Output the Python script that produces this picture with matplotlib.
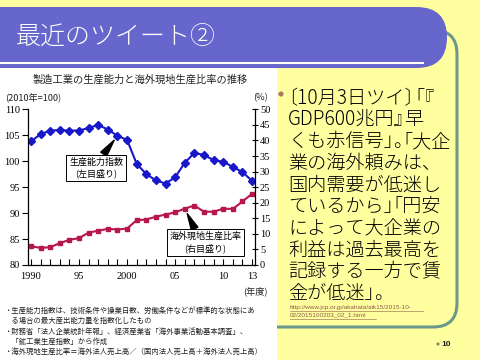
import matplotlib
matplotlib.use('Agg')
import matplotlib.pyplot as plt
from matplotlib.patches import FancyBboxPatch, Rectangle, Circle
from matplotlib.font_manager import findfont, FontProperties

plt.rcParams['font.family'] = ['Noto Sans CJK JP', 'DejaVu Sans']

# ---------------- data ----------------
years = list(range(1990, 2014))
capacity_index = [103.8, 105.2, 105.9, 106.0, 105.9, 105.9, 106.4, 107.0, 106.1, 104.9,
                  104.1, 99.5, 97.5, 96.3, 95.7, 96.9, 99.7, 101.6, 101.2, 100.2,
                  99.9, 98.9, 97.9, 96.2]
overseas_ratio = [6.0, 5.5, 5.7, 7.0, 8.1, 8.6, 10.4, 11.0, 11.6, 11.4,
                  11.7, 14.4, 14.6, 15.5, 16.2, 16.9, 18.1, 19.1, 17.1, 17.1,
                  18.1, 18.0, 20.4, 22.9]
xtick_years = [1990, 1995, 2000, 2005, 2010, 2013]
xtick_labels = ['1990', '95', '2000', '05', '10', '13']
left_ticks = [80, 85, 90, 95, 100, 105, 110]
right_ticks = [0, 5, 10, 15, 20, 25, 30, 35, 40, 45, 50]

slide_title = '最近のツイート②'
chart_title = '製造工業の生産能力と海外現地生産比率の推移'
label_capacity = '生産能力指数\n(左目盛り)'
label_overseas = '海外現地生産比率\n(右目盛り)'
footnotes = [
    '・生産能力指数は、技術条件や操業日数、労働条件などが標準的な状態にあ',
    '　る場合の最大産出能力量を指数化したもの',
    '・財務省「法人企業統計年報」、経済産業省「海外事業活動基本調査」、',
    '　「鉱工業生産指数」から作成',
    '・海外現地生産比率＝海外法人売上高／（国内法人売上高＋海外法人売上高）',
]
tweet_lines = [
    '〔10月3日ツイ〕「『',
    'GDP600兆円』早',
    'くも赤信号」。「大企',
    '業の海外頼みは、',
    '国内需要が低迷し',
    'ているから」「円安',
    'によって大企業の',
    '利益は過去最高を',
    '記録する一方で賃',
    '金が低迷」。',
]
url_lines = ['http://www.jcp.or.jp/akahata/aik15/2015-10-', '02/2015100203_02_1.html']
page_no = '10'

# ---------------- colours ----------------
BG = '#FFFFA0'
PURPLE = '#6666CC'
TEAL = '#6B9888'
BLUE = '#1818C8'
RED = '#B8164E'

W, H = 480, 360
DPI = 100
fig = plt.figure(figsize=(4.8, 3.6), dpi=DPI)
fig.patch.set_facecolor(BG)

bg = fig.add_axes([0, 0, 1, 1])
bg.set_xlim(0, W)
bg.set_ylim(H, 0)
bg.axis('off')

# text box with teal rounded border
bg.add_patch(FancyBboxPatch((150, 30), 457 - 150, 327 - 30,
                            boxstyle='round,pad=0,rounding_size=24',
                            fc=BG, ec=TEAL, lw=2.2, zorder=1))
# chart picture background
bg.add_patch(Rectangle((0, 68), 277, 292, fc='white', ec='none', zorder=2))
# title bar
bg.add_patch(FancyBboxPatch((-40, 7), 487, 61,
                            boxstyle='round,pad=0,rounding_size=30.5',
                            fc=PURPLE, ec='none', zorder=3))
bg.plot([0, 423], [62.5, 62.5], color='white', lw=1.5, zorder=4)
bg.text(16, 36, slide_title, color='white', fontsize=18, va='center', ha='left',
        fontweight='light', zorder=5)

# ---------------- tweet text (proportional punctuation) ----------------
size_pt = 13.8
em = size_pt * DPI / 72
OPEN = set('「『〔')
CLOSE = set('」』〕、。')

_font = None
try:
    from matplotlib.ft2font import FT2Font
    try:
        from matplotlib.ft2font import LoadFlags
        _flags = LoadFlags.NO_HINTING
    except Exception:
        from matplotlib.ft2font import LOAD_NO_HINTING as _flags
    _font = FT2Font(findfont(FontProperties(family='Noto Sans CJK JP', weight='light')))
    _font.set_size(size_pt, DPI)
except Exception:
    _font = None


def advance(ch):
    if _font is not None:
        try:
            return _font.load_char(ord(ch), flags=_flags).linearHoriAdvance / 65536.0
        except Exception:
            pass
    if ch.isdigit():
        return 0.56 * em
    if ch.isascii():
        return 0.68 * em
    return em


def draw_line(s, x0, yc):
    base = yc + 0.38 * em
    kw = dict(fontsize=size_pt, va='baseline', ha='left', fontweight='light', zorder=5)
    x = x0
    cur, start = '', x0
    for ch in s:
        if ch in OPEN:
            if cur:
                bg.text(start, base, cur, **kw)
            start = x - 0.5 * em
            cur = ch
            x = start + em
        elif ch in CLOSE:
            if cur == '':
                start = x
            cur += ch
            bg.text(start, base, cur, **kw)
            x += 0.5 * em
            cur, start = '', x
        else:
            if cur == '':
                start = x
            cur += ch
            x += advance(ch)
    if cur:
        bg.text(start, base, cur, **kw)


for i, line in enumerate(tweet_lines):
    draw_line(line, 288, 96.5 + i * 21.7)

bg.add_patch(Circle((281, 94), 2.6, fc='#A87868', ec='none', zorder=5))

# url
for i, u in enumerate(url_lines):
    bg.text(290, 307 + i * 8, u, fontsize=4.6, family='Liberation Sans',
            color='#8E5A48', va='center', ha='left', zorder=5)
bg.plot([290, 423], [310.5, 310.5], color='#8E5A48', lw=0.4, zorder=5)
bg.plot([290, 376], [318.5, 318.5], color='#8E5A48', lw=0.4, zorder=5)

# page number
bg.add_patch(Circle((438, 344), 1.6, fc='#A08070', ec='none', zorder=5))
bg.text(441, 344, page_no, fontsize=6, fontweight='bold', family='Liberation Sans',
        va='center', ha='left', color='#222222', zorder=5)

# chart texts
bg.text(140, 80, chart_title, fontsize=7.4, ha='center', va='center', color='#222222', zorder=5)
bg.text(5, 98, '(2010年=100)', fontsize=6.6, ha='left', va='center', color='#222222', zorder=5)
bg.text(261, 98, '(%)', fontsize=6.6, ha='center', va='center', color='#222222', zorder=5)
bg.text(268, 291, '(年度)', fontsize=6.6, ha='right', va='center', color='#222222', zorder=5)
for i, f in enumerate(footnotes):
    bg.text(4, 311 + i * 10.3, f, fontsize=5.3, ha='left', va='center', color='#222222', zorder=5)

# ---------------- chart ----------------
ax = fig.add_axes([28 / W, 1 - 265 / H, 227 / W, 155.7 / H])
ax.patch.set_visible(False)
ax.set_zorder(2)
ax2 = ax.twinx()
ax2.set_zorder(3)
ax2.patch.set_visible(False)

ax.set_xlim(1989.7, 2013.3)
ax.set_ylim(80, 110)
ax2.set_ylim(0, 50)

ax.plot(years, capacity_index, color=BLUE, lw=1.5, marker='D', ms=3.6, mec=BLUE, mfc=BLUE)
ax2.plot(years, overseas_ratio, color=RED, lw=1.5, marker='s', ms=3.4, mec=RED, mfc=RED)

for a in (ax, ax2):
    a.spines['top'].set_visible(False)
    for s in a.spines.values():
        s.set_linewidth(0.9)
ax2.spines['left'].set_visible(False)
ax2.spines['bottom'].set_visible(False)
ax.spines['right'].set_visible(False)

ax.set_xticks(xtick_years)
ax.set_xticklabels(xtick_labels)
ax.set_xticks(years, minor=True)
ax.tick_params(axis='x', which='both', direction='in', length=4, width=0.8, pad=5,
               labelsize=7.5, labelfontfamily='Liberation Serif')
ax.set_yticks(left_ticks)
ax.tick_params(axis='y', direction='out', length=4, width=0.8, pad=2,
               labelsize=7.5, labelfontfamily='Liberation Serif')
ax2.set_yticks(right_ticks)
ax2.tick_params(axis='y', direction='inout', length=5, width=0.8, pad=1,
                labelsize=7.5, labelfontfamily='Liberation Serif')

box = dict(boxstyle='square,pad=0.3', fc='white', ec='black', lw=0.7)
ax.annotate(label_capacity, xy=(years[9], capacity_index[9]), xytext=(96, H - 168),
            textcoords='figure pixels', ha='center', va='center', fontsize=6.5,
            linespacing=1.3, bbox=box,
            arrowprops=dict(arrowstyle='wedge,tail_width=0.8,shrink_factor=0.5',
                            fc='black', ec='black', relpos=(0.6, 1.0), shrinkA=0, shrinkB=4))
ax2.annotate(label_overseas, xy=(years[16], overseas_ratio[16]), xytext=(205.5, H - 242.5),
             textcoords='figure pixels', ha='center', va='center', fontsize=6.5,
             linespacing=1.3, bbox=box,
             arrowprops=dict(arrowstyle='wedge,tail_width=0.8,shrink_factor=0.5',
                             fc='black', ec='black', relpos=(0.37, 1.0), shrinkA=0, shrinkB=4))

fig.savefig('out.png', dpi=DPI, facecolor=fig.get_facecolor())
